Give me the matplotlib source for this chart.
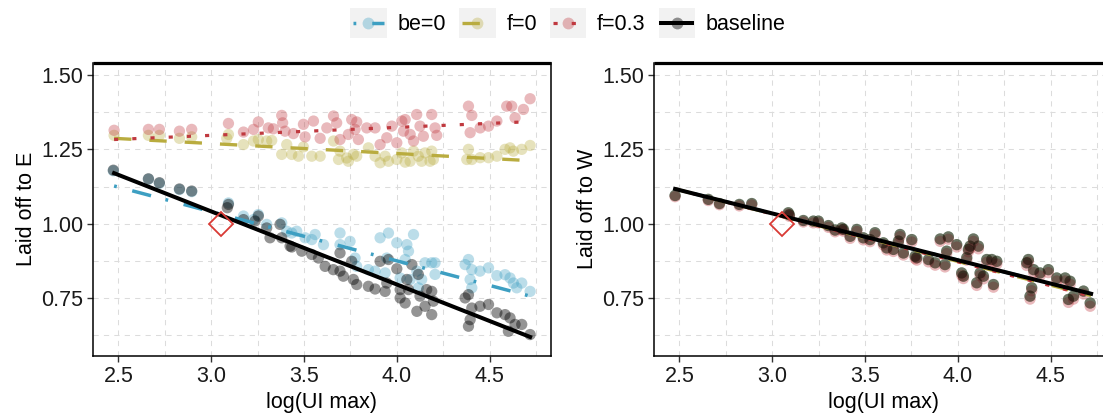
import matplotlib
matplotlib.use("Agg")
import matplotlib.pyplot as plt
from matplotlib.legend_handler import HandlerBase
from matplotlib.lines import Line2D
from matplotlib.patches import Rectangle
from matplotlib.ticker import FormatStrFormatter, MultipleLocator

plt.rcParams["font.family"] = ["Liberation Sans", "DejaVu Sans"]

# ---- data: left panel (laid off to E) ----
E_base_x = [2.473, 2.662, 2.721, 2.829, 2.895, 3.087, 3.093, 3.174, 3.236, 3.254,
            3.299, 3.317, 3.371, 3.380, 3.425, 3.434, 3.488, 3.542, 3.578, 3.614,
            3.658, 3.694, 3.694, 3.712, 3.757, 3.766, 3.784, 3.847, 3.883, 3.910,
            3.937, 3.946, 3.955, 4.000, 4.018, 4.018, 4.045, 4.054, 4.063, 4.081,
            4.108, 4.116, 4.125, 4.152, 4.161, 4.188, 4.188, 4.197, 4.368, 4.386,
            4.386, 4.395, 4.404, 4.448, 4.494, 4.539, 4.583, 4.601, 4.610, 4.637,
            4.673, 4.718]
E_base_y = [1.180, 1.151, 1.138, 1.117, 1.110, 1.054, 1.065, 1.014, 1.009, 1.026,
            0.986, 0.953, 0.998, 0.953, 0.925, 0.922, 0.908, 0.897, 0.885, 0.857,
            0.846, 0.902, 0.841, 0.824, 0.874, 0.813, 0.796, 0.790, 0.781, 0.874,
            0.773, 0.801, 0.880, 0.849, 0.779, 0.751, 0.734, 0.813, 0.779, 0.863,
            0.706, 0.830, 0.757, 0.723, 0.779, 0.695, 0.773, 0.740, 0.751, 0.762,
            0.656, 0.678, 0.717, 0.723, 0.729, 0.701, 0.695, 0.639, 0.684, 0.662,
            0.662, 0.628]

E_be0_x = [2.473, 2.662, 2.721, 2.829, 2.895, 3.093, 3.174, 3.228, 3.254, 3.299,
           3.380, 3.407, 3.434, 3.461, 3.506, 3.542, 3.560, 3.605, 3.694, 3.694,
           3.748, 3.775, 3.784, 3.847, 3.883, 3.910, 3.937, 3.946, 3.955, 4.000,
           4.018, 4.045, 4.054, 4.063, 4.072, 4.090, 4.108, 4.116, 4.134, 4.152,
           4.188, 4.206, 4.206, 4.368, 4.386, 4.395, 4.404, 4.404, 4.448, 4.494,
           4.539, 4.583, 4.610, 4.628, 4.646, 4.673, 4.718]
E_be0_y = [1.178, 1.150, 1.136, 1.115, 1.108, 1.070, 1.026, 1.014, 1.031, 0.998,
           1.003, 0.975, 0.969, 0.975, 0.953, 0.947, 0.964, 0.930, 0.969, 0.930,
           0.941, 0.885, 0.857, 0.846, 0.841, 0.953, 0.835, 0.885, 0.969, 0.936,
           0.818, 0.880, 0.930, 0.908, 0.813, 0.964, 0.841, 0.785, 0.813, 0.869,
           0.869, 0.869, 0.830, 0.863, 0.880, 0.813, 0.846, 0.785, 0.841, 0.852,
           0.826, 0.829, 0.818, 0.801, 0.785, 0.801, 0.773]

E_f0_x = [2.477, 2.662, 2.721, 2.829, 2.895, 3.084, 3.093, 3.174, 3.228, 3.254,
          3.299, 3.326, 3.380, 3.407, 3.434, 3.470, 3.497, 3.542, 3.587, 3.659,
          3.686, 3.694, 3.730, 3.739, 3.766, 3.784, 3.847, 3.883, 3.910, 3.937,
          3.955, 4.000, 4.027, 4.045, 4.072, 4.090, 4.116, 4.134, 4.152, 4.179,
          4.188, 4.197, 4.377, 4.386, 4.404, 4.449, 4.494, 4.539, 4.583, 4.610,
          4.628, 4.673, 4.718]
E_f0_y = [1.297, 1.297, 1.297, 1.287, 1.292, 1.287, 1.300, 1.266, 1.278, 1.283,
          1.278, 1.280, 1.233, 1.266, 1.233, 1.227, 1.258, 1.227, 1.227, 1.278,
          1.216, 1.244, 1.221, 1.210, 1.233, 1.227, 1.255, 1.227, 1.205, 1.227,
          1.210, 1.216, 1.238, 1.207, 1.210, 1.244, 1.227, 1.210, 1.238, 1.210,
          1.244, 1.216, 1.216, 1.250, 1.216, 1.222, 1.222, 1.227, 1.250, 1.255,
          1.244, 1.250, 1.263]

E_f03_x = [2.477, 2.662, 2.721, 2.829, 2.895, 3.093, 3.174, 3.228, 3.254, 3.308,
           3.335, 3.380, 3.385, 3.398, 3.443, 3.497, 3.506, 3.551, 3.587, 3.623,
           3.659, 3.676, 3.694, 3.739, 3.757, 3.775, 3.784, 3.793, 3.838, 3.883,
           3.910, 3.946, 3.973, 4.000, 4.027, 4.036, 4.045, 4.072, 4.090, 4.107,
           4.125, 4.143, 4.188, 4.206, 4.215, 4.386, 4.395, 4.404, 4.449, 4.494,
           4.539, 4.592, 4.619, 4.637, 4.682, 4.718]
E_f03_y = [1.314, 1.317, 1.317, 1.311, 1.317, 1.337, 1.308, 1.317, 1.342, 1.322,
           1.319, 1.364, 1.339, 1.311, 1.303, 1.334, 1.292, 1.345, 1.287, 1.322,
           1.362, 1.339, 1.283, 1.300, 1.350, 1.317, 1.342, 1.283, 1.322, 1.322,
           1.266, 1.289, 1.328, 1.272, 1.345, 1.311, 1.350, 1.300, 1.278, 1.367,
           1.328, 1.294, 1.367, 1.322, 1.297, 1.395, 1.306, 1.364, 1.322, 1.328,
           1.345, 1.395, 1.395, 1.356, 1.384, 1.420]

# ---- data: right panel (laid off to W) ----
W_x = [2.477, 2.656, 2.716, 2.823, 2.890, 3.087, 3.093, 3.168, 3.222, 3.249,
       3.303, 3.339, 3.375, 3.384, 3.420, 3.456, 3.491, 3.527, 3.554, 3.599,
       3.617, 3.653, 3.680, 3.689, 3.707, 3.752, 3.770, 3.779, 3.842, 3.878,
       3.905, 3.931, 3.940, 3.949, 3.994, 4.021, 4.030, 4.048, 4.057, 4.066,
       4.084, 4.102, 4.111, 4.120, 4.138, 4.156, 4.183, 4.192, 4.210, 4.371,
       4.380, 4.389, 4.398, 4.408, 4.443, 4.488, 4.533, 4.578, 4.596, 4.605,
       4.623, 4.677, 4.713]
W_base_y = [1.095, 1.082, 1.068, 1.065, 1.068, 1.037, 1.030, 1.011, 1.009, 1.009,
            0.994, 0.979, 0.986, 0.981, 0.958, 0.981, 0.953, 0.947, 0.970, 0.936,
            0.919, 0.914, 0.942, 0.964, 0.902, 0.947, 0.891, 0.886, 0.880, 0.869,
            0.949, 0.863, 0.908, 0.956, 0.930, 0.835, 0.824, 0.886, 0.914, 0.925,
            0.949, 0.802, 0.925, 0.835, 0.824, 0.880, 0.880, 0.796, 0.874, 0.869,
            0.880, 0.757, 0.785, 0.846, 0.835, 0.846, 0.818, 0.818, 0.746, 0.807,
            0.757, 0.774, 0.734]
W_f03_y = [1.091, 1.078, 1.064, 1.060, 1.063, 1.032, 1.025, 1.006, 1.003, 1.003,
           0.988, 0.973, 0.980, 0.975, 0.951, 0.974, 0.946, 0.940, 0.963, 0.929,
           0.912, 0.907, 0.935, 0.957, 0.895, 0.939, 0.883, 0.878, 0.872, 0.861,
           0.941, 0.855, 0.900, 0.948, 0.922, 0.827, 0.816, 0.878, 0.906, 0.917,
           0.941, 0.793, 0.916, 0.826, 0.815, 0.871, 0.871, 0.787, 0.865, 0.860,
           0.871, 0.747, 0.775, 0.836, 0.825, 0.836, 0.808, 0.808, 0.736, 0.797,
           0.747, 0.764, 0.723]

# fitted lines (values at the ends of the x range)
fit_x = [2.477, 4.718]
E_fit = {"be=0": [1.127, 0.757], "f=0": [1.287, 1.212],
         "f=0.3": [1.283, 1.343], "baseline": [1.170, 0.620]}
W_fit = {"be=0": [1.117, 0.765], "f=0": [1.117, 0.759],
         "f=0.3": [1.117, 0.757], "baseline": [1.117, 0.765]}

ref_x = [3.053]
ref_y = [1.00]

series = ["be=0", "f=0", "f=0.3", "baseline"]
colors = {"be=0": "#3D9FC2", "f=0": "#B9AC3F", "f=0.3": "#C0393F", "baseline": "black"}
styles = {"be=0": (0, (0.8, 4.6, 5.6, 4.3)),
          "f=0": (0, (5.2, 5.4)),
          "f=0.3": (0, (1.3, 4.4)),
          "baseline": "-"}
widths = {"be=0": 2.5, "f=0": 2.4, "f=0.3": 2.3, "baseline": 2.9}
pt_alpha = {"be=0": 0.35, "f=0": 0.35, "f=0.3": 0.35, "baseline": 0.42}

E_points = {"be=0": (E_be0_x, E_be0_y), "f=0": (E_f0_x, E_f0_y),
            "f=0.3": (E_f03_x, E_f03_y), "baseline": (E_base_x, E_base_y)}
W_points = {"be=0": (W_x, W_base_y), "f=0": (W_x, W_base_y),
            "f=0.3": (W_x, W_f03_y), "baseline": (W_x, W_base_y)}

FS = 15.5
W, H = 1103, 418
fig = plt.figure(figsize=(W / 100, H / 100), dpi=100)
ax_w = 457.4 / W
ax_h = (356 - 62.7) / H
ax_b = 1 - 356 / H
axE = fig.add_axes([93.3 / W, ax_b, ax_w, ax_h])
axW = fig.add_axes([654.3 / W, ax_b, ax_w, ax_h])


def draw_panel(ax, points, fits, ylabel):
    for s in series:
        xs, ys = points[s]
        ax.scatter(xs, ys, s=66, color=colors[s], alpha=pt_alpha[s],
                   edgecolors="none", zorder=2)
    for s in series:
        ax.plot(fit_x, fits[s], color=colors[s], linestyle=styles[s],
                lw=widths[s], dash_capstyle="butt", zorder=3)
    ax.plot(ref_x, ref_y, marker="D", ms=12, mfc="none", mec="#D93A35",
            mew=1.3, linestyle="none", zorder=4)

    ax.set_xlim(2.365, 4.829)
    ax.set_ylim(0.556, 1.541)
    ax.xaxis.set_major_locator(MultipleLocator(0.5))
    ax.xaxis.set_minor_locator(MultipleLocator(0.25))
    ax.yaxis.set_major_locator(MultipleLocator(0.25))
    ax.yaxis.set_minor_locator(MultipleLocator(0.125))
    ax.xaxis.set_major_formatter(FormatStrFormatter("%.1f"))
    ax.yaxis.set_major_formatter(FormatStrFormatter("%.2f"))
    ax.grid(which="both", color="#DCDCDC", lw=0.75, linestyle=(0, (5, 5)), zorder=0)
    ax.set_axisbelow(True)
    ax.tick_params(which="major", length=4, width=1, color="#333333",
                   labelsize=FS, labelcolor="#1A1A1A", pad=3)
    ax.tick_params(which="minor", length=0)
    for side in ("left", "right", "bottom"):
        ax.spines[side].set_linewidth(1.1)
    ax.spines["top"].set_linewidth(2.3)
    ax.spines["top"].set_capstyle("butt")
    ax.set_xlabel("log(UI max)", fontsize=FS, labelpad=4)
    ax.set_ylabel(ylabel, fontsize=FS, labelpad=3)


draw_panel(axE, E_points, E_fit, "Laid off to E")
draw_panel(axW, W_points, W_fit, "Laid off to W")


class KeyHandler(HandlerBase):
    # grey key box, the series line and a translucent point on top
    def create_artists(self, legend, orig_handle, xdescent, ydescent,
                       width, height, fontsize, trans):
        x0, y0 = -xdescent, -ydescent
        yc = y0 + height / 2
        bg = Rectangle((x0, y0), width, height, facecolor="#F2F2F2",
                       edgecolor="none", transform=trans)
        ln = Line2D([x0 + 2, x0 + width - 2], [yc, yc], transform=trans)
        ln.update_from(orig_handle)
        ln.set_marker("None")
        pt = Line2D([x0 + width / 2], [yc], marker="o", ms=8.5, linestyle="none",
                    color=orig_handle.get_color(), alpha=orig_handle.pt_alpha,
                    mec="none", transform=trans)
        return [bg, ln, pt]


handles = []
for s in series:
    h = Line2D([], [], color=colors[s], linestyle=styles[s], lw=widths[s],
               dash_capstyle="butt")
    h.pt_alpha = pt_alpha[s]
    handles.append(h)

fig.legend(handles, series, loc="center", bbox_to_anchor=(568 / W, 1 - 23 / H),
           ncol=4, frameon=False, fontsize=FS, handlelength=1.7, handleheight=1.7,
           handletextpad=0.5, columnspacing=0.6,
           handler_map={Line2D: KeyHandler()})

fig.savefig("out.png", dpi=100)
